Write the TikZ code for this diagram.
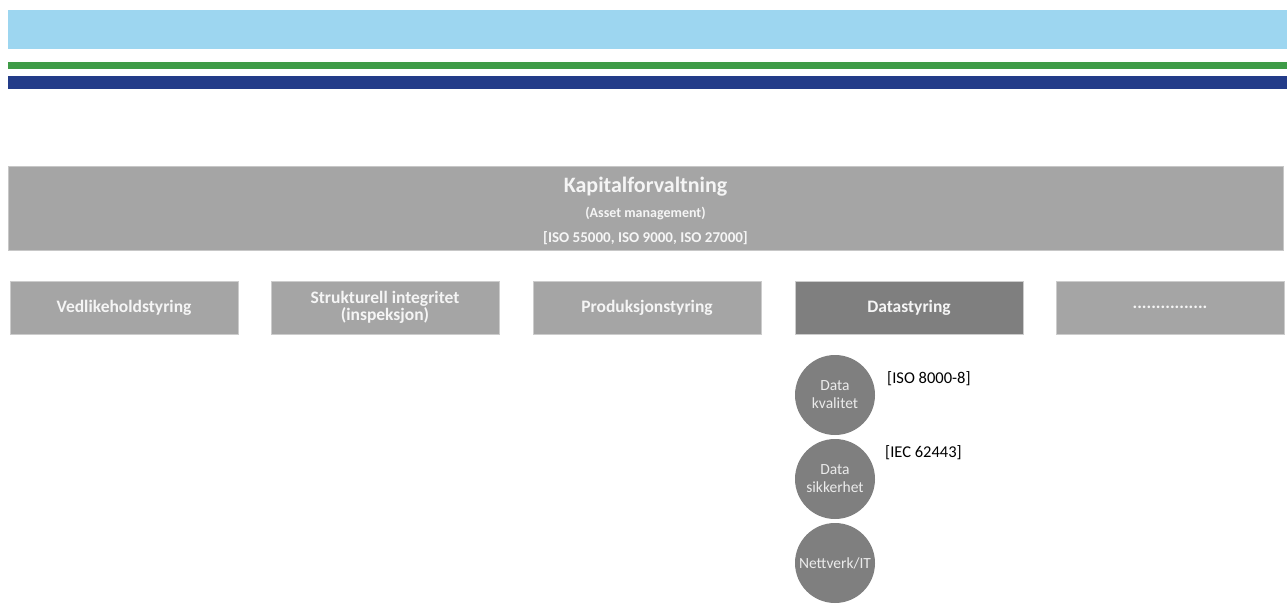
\documentclass[tikz,border=0pt]{standalone}
\usepackage{fontspec}
\setmainfont{Carlito}
\usetikzlibrary{positioning}

\definecolor{bandsky}{HTML}{9DD6F0}
\definecolor{bandgreen}{HTML}{3E9B47}
\definecolor{bandnavy}{HTML}{233C89}
\definecolor{boxgrey}{HTML}{A5A5A5}
\definecolor{boxdark}{HTML}{7F7F7F}
\definecolor{circgrey}{HTML}{7F7F7F}

\begin{document}
\begin{tikzpicture}[
  x=1pt,
  y=-1pt,
  every node/.style={inner sep=1pt},
  topbox/.style={draw=black!22,fill=boxgrey,minimum width=1275pt,minimum height=84pt},
  toptext/.style={text=white!96!black,align=center,font=\fontsize{14}{25}\selectfont\bfseries},
  area/.style={draw=black!20,fill=boxgrey,minimum width=228pt,minimum height=53pt,
    text=white!96!black,align=center,font=\fontsize{17.5}{17.5}\selectfont\bfseries},
  areadark/.style={area,fill=boxdark},
  topic/.style={circle,fill=circgrey,minimum size=80pt,inner sep=0pt,
    text=white!92!black,align=center,font=\fontsize{15.5}{18}\selectfont},
  std/.style={anchor=west,font=\fontsize{16.5}{18}\selectfont}
]
\useasboundingbox (0,0) rectangle (1287,615);

% Header bands
\fill[bandsky] (8,10) rectangle (1287,49);
\fill[bandgreen] (8,62) rectangle (1287,69);
\fill[bandnavy] (8,76) rectangle (1287,89);

% Top level
\node[topbox] (asset) at (645.5,208) {};
\node[toptext] (assettext) at ([yshift=-2.5pt]asset.center) {%
  {\fontsize{22}{25}\selectfont Kapitalforvaltning}\\
  (Asset management)\\
  {\fontsize{15}{25}\selectfont [ISO 55000, ISO 9000, ISO 27000]}};

% Second level
\node[area] (vedlikehold) at (124,307.5) {Vedlikeholdstyring};
\node[area] (integritet) at (385,307.5) {Strukturell integritet\\(inspeksjon)};
\node[area] (produksjon) at (647,307.5) {Produksjonstyring};
\node[areadark] (data) at (909,307.5) {Datastyring};
\node[area] (more) at (1170,307.5) {................};

% Data topics
\node[topic] (kvalitet) at (835,395) {Data\\kvalitet};
\node[topic] (sikkerhet) at (835,479) {Data\\sikkerhet};
\node[topic] (nettverk) at (835,563) {Nettverk/IT};

\node[std] (iso8000) at (886,379) {[ISO 8000-8]};
\node[std] (iec62443) at (884,453) {[IEC 62443]};
\end{tikzpicture}
\end{document}
